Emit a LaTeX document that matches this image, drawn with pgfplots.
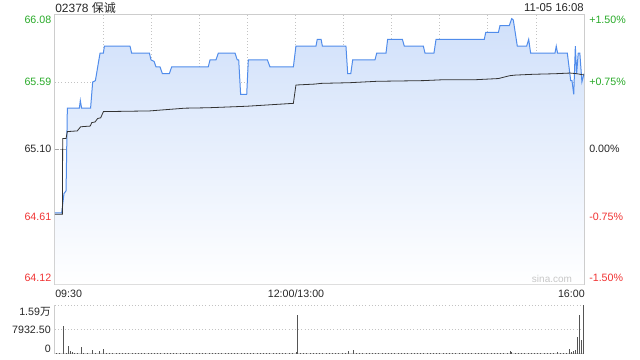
\documentclass[border=0pt]{standalone}
\usepackage{pgfplots}
\pgfplotsset{compat=1.18}
\usepackage{fontspec}
\setmainfont{Liberation Sans}
\newfontfamily\cjk{Noto Sans CJK SC}
\definecolor{upg}{RGB}{40,170,40}
\definecolor{dnr}{RGB}{240,50,50}
\definecolor{pline}{RGB}{80,140,235}
\definecolor{ftop}{RGB}{208,224,250}
\definecolor{frame}{RGB}{205,205,205}
\definecolor{gridc}{RGB}{195,195,195}
\definecolor{volc}{RGB}{85,85,85}
\begin{document}
\begin{tikzpicture}
\path[use as bounding box] (0,0) rectangle (480pt,270pt);
\begin{axis}[
  at={(41.25pt,56.625pt)}, anchor=south west,
  width=396.75pt, height=202.5pt, scale only axis,
  xmin=0, xmax=330, ymin=64.12, ymax=66.08,
  xtick={30,60,...,300}, ytick={64.61,65.59},
  extra y ticks={65.10}, extra y tick labels={},
  extra y tick style={major grid style={gray!70, dash pattern=on 3pt off 1pt on 1pt off 1pt}},
  xticklabels={}, yticklabels={},
  scaled ticks=false,
  tick style={draw=none},
  grid=major, major grid style={gridc, dotted, line width=0.5pt},
  axis line style={draw=frame, line width=0.75pt},
]
\addplot[draw=none, top color=ftop, bottom color=white] coordinates {
(0,64.64)(4.2,64.64)(5.6,64.78)(6.9,64.80)(7.7,65.40)(15.2,65.40)(15.8,65.455)(16.6,65.40)(22.2,65.40)(23.5,65.59)(25.2,65.60)(28.1,65.80)(30.2,65.80)(30.8,65.85)(46.8,65.85)(47.8,65.80)(58.9,65.80)(59.9,65.75)(61.8,65.74)(63.0,65.70)(65.5,65.70)(67,65.65)(71.3,65.65)(72.8,65.70)(95.6,65.70)(96.7,65.75)(100.4,65.75)(101.9,65.80)(112.3,65.80)(113.7,65.75)(114.6,65.75)(115.8,65.50)(119.6,65.50)(120.6,65.75)(132.5,65.75)(134.1,65.70)(148.7,65.70)(150.3,65.85)(162.8,65.85)(163.6,65.90)(166.0,65.90)(166.8,65.85)(181.5,65.85)(182.6,65.65)(184.5,65.65)(185.7,65.75)(199.6,65.75)(200.7,65.80)(206.5,65.80)(207.5,65.90)(216.7,65.90)(217.9,65.85)(229.8,65.85)(230.8,65.80)(236.4,65.80)(237.7,65.90)(267.8,65.90)(268.7,65.95)(276.6,65.95)(277.6,66.00)(283.4,66.00)(284.9,66.05)(285.9,66.04)(288.4,65.85)(294.2,65.85)(295.5,65.90)(296.7,65.80)(311.9,65.80)(312.7,65.85)(313.5,65.80)(319.6,65.80)(321.7,65.60)(322.5,65.60)(323.6,65.50)(324.6,65.85)(325.4,65.65)(326.4,65.80)(327.4,65.80)(328.7,65.59)(330,65.65)
} |- (0,64.12) -- cycle;
\addplot[pline, line width=0.75pt] coordinates {
(0,64.64)(4.2,64.64)(5.6,64.78)(6.9,64.80)(7.7,65.40)(15.2,65.40)(15.8,65.455)(16.6,65.40)(22.2,65.40)(23.5,65.59)(25.2,65.60)(28.1,65.80)(30.2,65.80)(30.8,65.85)(46.8,65.85)(47.8,65.80)(58.9,65.80)(59.9,65.75)(61.8,65.74)(63.0,65.70)(65.5,65.70)(67,65.65)(71.3,65.65)(72.8,65.70)(95.6,65.70)(96.7,65.75)(100.4,65.75)(101.9,65.80)(112.3,65.80)(113.7,65.75)(114.6,65.75)(115.8,65.50)(119.6,65.50)(120.6,65.75)(132.5,65.75)(134.1,65.70)(148.7,65.70)(150.3,65.85)(162.8,65.85)(163.6,65.90)(166.0,65.90)(166.8,65.85)(181.5,65.85)(182.6,65.65)(184.5,65.65)(185.7,65.75)(199.6,65.75)(200.7,65.80)(206.5,65.80)(207.5,65.90)(216.7,65.90)(217.9,65.85)(229.8,65.85)(230.8,65.80)(236.4,65.80)(237.7,65.90)(267.8,65.90)(268.7,65.95)(276.6,65.95)(277.6,66.00)(283.4,66.00)(284.9,66.05)(285.9,66.04)(288.4,65.85)(294.2,65.85)(295.5,65.90)(296.7,65.80)(311.9,65.80)(312.7,65.85)(313.5,65.80)(319.6,65.80)(321.7,65.60)(322.5,65.60)(323.6,65.50)(324.6,65.85)(325.4,65.65)(326.4,65.80)(327.4,65.80)(328.7,65.59)(330,65.65)
};
\addplot[black!80, line width=0.6pt] coordinates {
(0,64.63)(4.6,64.63)(4.8,65.18)(6.9,65.18)(7.7,65.23)(13.9,65.235)(16,65.265)(22,65.27)(22.9,65.295)(25,65.30)(26.6,65.325)(28.5,65.33)(30.2,65.375)(59,65.38)(81.1,65.40)(95.6,65.403)(119.6,65.414)(148.7,65.435)(150.3,65.568)(162.2,65.575)(166,65.58)(184,65.585)(200.7,65.595)(229.8,65.60)(243.3,65.607)(263,65.607)(276.6,65.615)(283.8,65.636)(287,65.64)(298.4,65.646)(311.9,65.65)(321.3,65.655)(325.6,65.65)(330,65.641)
};
\end{axis}
\begin{axis}[
  at={(41.25pt,4.5pt)}, anchor=south west,
  width=396.75pt, height=36.75pt, scale only axis,
  xmin=0, xmax=330, ymin=0, ymax=15865,
  xtick=\empty, ytick={7932.5,15865}, yticklabels={},
  scaled ticks=false,
  tick style={draw=none},
  ymajorgrids, major grid style={gridc, dotted, line width=0.5pt},
  axis x line*=bottom, axis y line*=left,
  axis line style={draw=frame, line width=0.75pt, -},
  clip=false,
]
\addplot[ycomb, volc, line width=0.55pt] coordinates {
(5,9160)(8.3,2590)(9.4,900)(10.9,650)(16.6,2170)(23.3,1300)(27.7,1100)(30.2,1620)(150.6,700)(151.2,12600)(183,1000)(186,1300)(283.8,1000)(285,500)(313.4,700)(320.8,1620)(323.3,1000)(324.4,1300)(325.8,5600)(327.1,12600)(328.5,4530)(329.5,15865)
(1,200)(3,300)(7,250)(12,400)(14,300)(18,350)(20,250)(25,300)(32,250)(34,300)(36,200)(38,250)(40,300)(42,200)(44,250)(46,200)(48,300)(50,250)(52,200)(54,250)(56,300)(58,200)(60,250)(62,200)(64,300)(66,250)(68,200)(70,250)(72,300)(74,200)(76,250)(78,200)(80,300)(82,250)(84,200)(86,250)(88,200)(90,300)(92,250)(94,200)(96,250)(98,300)(100,200)(102,250)(104,200)(106,300)(108,250)(110,200)(112,250)(114,200)(116,300)(118,250)(120,200)(122,250)(124,200)(126,300)(128,250)(130,200)(132,250)(134,200)(136,300)(138,250)(140,200)(142,250)(144,200)(146,250)(148,300)(153,250)(155,200)(157,250)(159,300)(161,200)(163,250)(165,200)(167,300)(169,250)(171,200)(173,250)(175,200)(177,300)(179,250)(181,400)(188,250)(190,200)(192,300)(194,250)(196,200)(198,250)(200,300)(202,200)(204,250)(206,200)(208,300)(210,250)(212,200)(214,250)(216,200)(218,300)(220,250)(222,200)(224,250)(226,300)(228,200)(230,250)(232,200)(234,300)(236,250)(238,200)(240,250)(242,200)(244,300)(246,250)(248,200)(250,250)(252,300)(254,200)(256,250)(258,200)(260,300)(262,250)(264,200)(266,250)(268,400)(270,250)(272,300)(274,200)(276,250)(278,200)(280,300)(282,400)(287,300)(289,250)(291,200)(293,250)(295,300)(297,200)(299,250)(301,200)(303,300)(305,250)(307,200)(309,250)(311,400)(315,300)(317,250)(319,400)(322,600)
};
\end{axis}
\begin{scope}[x=0.75pt, y=-0.75pt, yshift=270pt, every node/.style={inner sep=0pt, font=\fontsize{8}{9.6}\selectfont}]
\node[anchor=west, font=\fontsize{9}{10.8}\selectfont, text=black!85] at (55,7.5) {02378 {\cjk 保诚}};
\node[anchor=east, font=\fontsize{8.5}{10}\selectfont, text=black!85] at (584,7.5) {11-05 16:08};
\node[anchor=east, text=upg] at (51.5,20) {66.08};
\node[anchor=east, text=upg] at (51.5,82) {65.59};
\node[anchor=east, text=black!85] at (51.5,149) {65.10};
\node[anchor=east, text=dnr] at (51.5,217) {64.61};
\node[anchor=east, text=dnr] at (51.5,278) {64.12};
\node[anchor=west, text=upg] at (589,20) {+1.50\%};
\node[anchor=west, text=upg] at (589,82) {+0.75\%};
\node[anchor=west, text=black!85] at (589,149) {0.00\%};
\node[anchor=west, text=dnr] at (589,217) {-0.75\%};
\node[anchor=west, text=dnr] at (589,278) {-1.50\%};
\node[anchor=west, text=black!85] at (55,293.5) {09:30};
\node[anchor=center, text=black!85] at (296,293.5) {12:00/13:00};
\node[anchor=east, text=black!85] at (585,293.5) {16:00};
\node[anchor=east, text=black!85] at (51,311.5) {1.59{\cjk 万}};
\node[anchor=east, text=black!85] at (51,330) {7932.50};
\node[anchor=east, text=black!85] at (51,348.5) {0};
\node[anchor=center, text=black!22, font=\fontsize{7.5}{9}\selectfont] at (552,279) {sina.com};
\end{scope}
\end{tikzpicture}
\end{document}
